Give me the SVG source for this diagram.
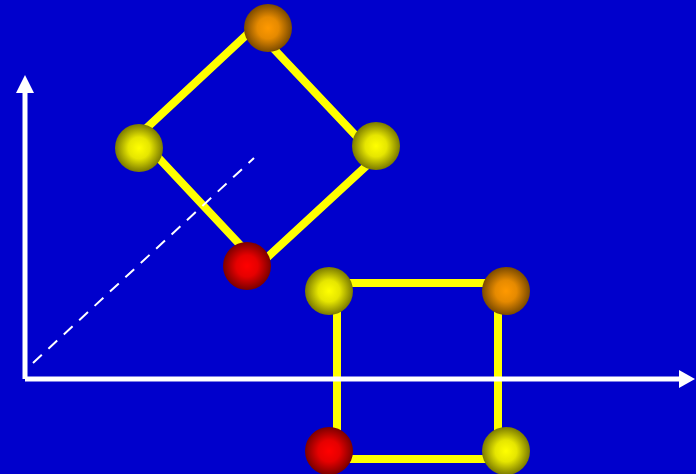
<svg xmlns="http://www.w3.org/2000/svg" width="696" height="474" viewBox="0 0 696 474">
  <style>
    .edge { fill: none; stroke: #FFFF00; stroke-width: 8; stroke-linejoin: miter; }
    .axis { stroke: #FFFFFF; stroke-width: 5; fill: none; }
    .head { fill: #FFFFFF; }
    .dash { stroke: #FFFFFF; stroke-width: 2; stroke-dasharray: 12 9; fill: none; }
  </style>
  <defs>
    <radialGradient id="gY" cx="50%" cy="50%" r="50%">
      <stop offset="0" stop-color="#FFFF00"/>
      <stop offset="0.45" stop-color="#E6E600"/>
      <stop offset="1" stop-color="#7A7A00"/>
    </radialGradient>
    <radialGradient id="gO" cx="50%" cy="50%" r="50%">
      <stop offset="0" stop-color="#FF9900"/>
      <stop offset="0.45" stop-color="#E68A00"/>
      <stop offset="1" stop-color="#7A4A00"/>
    </radialGradient>
    <radialGradient id="gR" cx="50%" cy="50%" r="50%">
      <stop offset="0" stop-color="#FF0000"/>
      <stop offset="0.45" stop-color="#E60000"/>
      <stop offset="1" stop-color="#7A0000"/>
    </radialGradient>
  </defs>
  <rect x="0" y="0" width="696" height="474" fill="#0000CC"/>
  <g id="connectors">
    <polygon class="edge" points="254,28 376,157 259,265 138,136"/>
    <rect class="edge" x="337" y="283" width="161" height="176"/>
  </g>
  <g id="axes">
    <line class="axis" x1="25" y1="379" x2="25" y2="92"/>
    <polygon class="head" points="25,75 16,93 34,93"/>
    <line class="axis" x1="25" y1="379" x2="680" y2="379"/>
    <polygon class="head" points="695,379 679,370 679,388"/>
    <line class="dash" x1="33" y1="363" x2="254" y2="158"/>
  </g>
  <g id="diamond-top"><circle cx="268" cy="28" r="24" fill="url(#gO)"/></g>
  <g id="diamond-left"><circle cx="139" cy="148" r="24" fill="url(#gY)"/></g>
  <g id="diamond-right"><circle cx="376" cy="146" r="24" fill="url(#gY)"/></g>
  <g id="diamond-bottom"><circle cx="247" cy="266" r="24" fill="url(#gR)"/></g>
  <g id="square-tl"><circle cx="329" cy="291" r="24" fill="url(#gY)"/></g>
  <g id="square-tr"><circle cx="506" cy="291" r="24" fill="url(#gO)"/></g>
  <g id="square-bl"><circle cx="329" cy="451" r="24" fill="url(#gR)"/></g>
  <g id="square-br"><circle cx="506" cy="451" r="24" fill="url(#gY)"/></g>
</svg>
